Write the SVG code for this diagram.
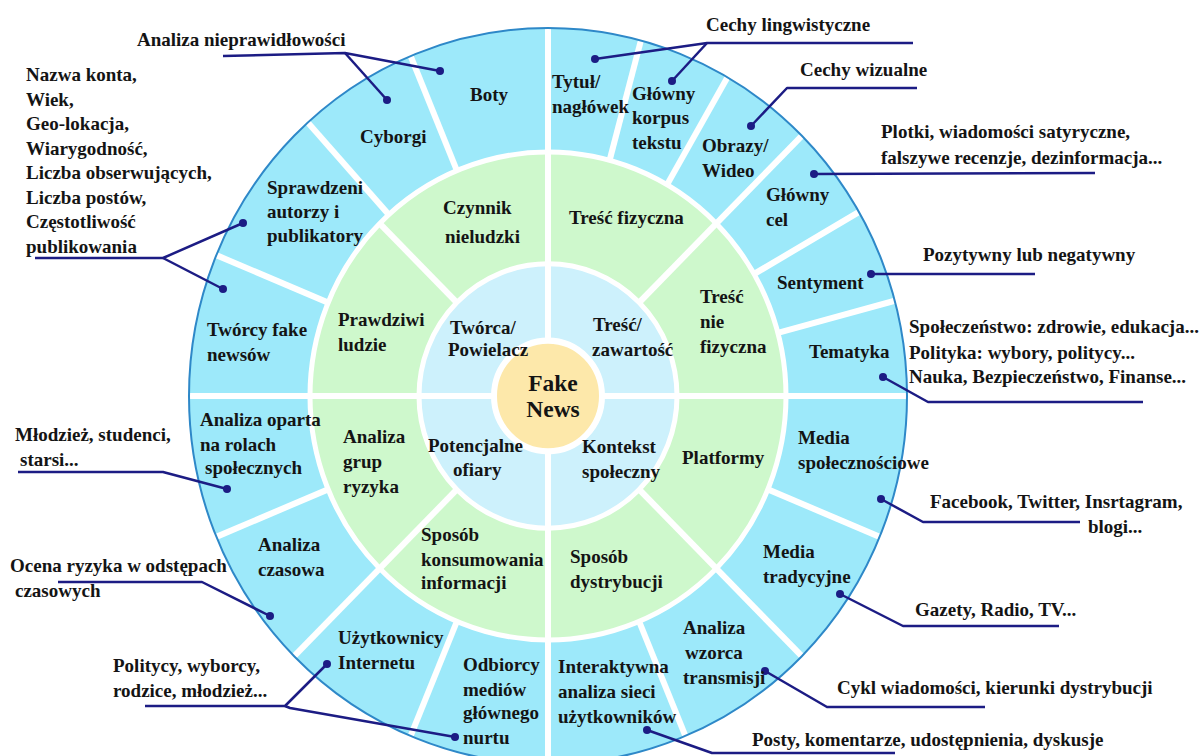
<svg xmlns="http://www.w3.org/2000/svg" width="1203" height="756" viewBox="0 0 1203 756">
<style>
text{font-family:"Liberation Serif","Times New Roman",serif;font-weight:bold;font-size:19px;fill:#141414}
.big{font-size:23.5px}
.sep{stroke:#fff;stroke-width:6;fill:none}
.con{stroke:#1c1c84;stroke-width:2.5;fill:none;stroke-linejoin:round}
.dot{fill:#1c1c84}
</style>
<rect width="1203" height="756" fill="#fff"/>
<g id="label-ocena-behind"><text x="10" y="572">Ocena ryzyka w odstępach</text></g>
<g id="wheel" transform="translate(548,396) scale(1,1.025)">
<circle r="359" fill="#9de9fa"/>
<circle r="238" fill="#cef8cc" stroke="#fff" stroke-width="5"/>
<circle r="129" fill="#cdf1fc" stroke="#fff" stroke-width="5"/>
<g class="sep">
<line x1="0" y1="-359" x2="0" y2="359"/>
<line x1="-359" y1="0" x2="359" y2="0"/>
<line x1="91.2" y1="-91.2" x2="253.9" y2="-253.9"/>
<line x1="91.2" y1="91.2" x2="253.9" y2="253.9"/>
<line x1="-91.2" y1="91.2" x2="-253.9" y2="253.9"/>
<line x1="-91.2" y1="-91.2" x2="-168.3" y2="-168.3"/>
<line x1="-159.2" y1="-176.9" x2="-240.2" y2="-266.8"/>
<line x1="61.6" y1="-229.9" x2="92.9" y2="-346.8"/>
<line x1="119" y1="-206.1" x2="179.5" y2="-310.9"/>
<line x1="206.1" y1="-119" x2="310.9" y2="-179.5"/>
<line x1="229.9" y1="-61.6" x2="346.8" y2="-92.9"/>
<line x1="219.9" y1="91.1" x2="331.7" y2="137.4"/>
<line x1="91.1" y1="219.9" x2="137.4" y2="331.7"/>
<line x1="-91.1" y1="219.9" x2="-137.4" y2="331.7"/>
<line x1="-219.9" y1="91.1" x2="-331.7" y2="137.4"/>
<line x1="-219.9" y1="-91.1" x2="-331.7" y2="-137.4"/>
<line x1="-91.1" y1="-219.9" x2="-137.4" y2="-331.7"/>
</g>
<circle r="54" fill="#fde8aa" stroke="#fff" stroke-width="6"/>
<circle r="359" fill="none" stroke="#2e88c8" stroke-width="2"/>
</g>
<g id="connectors">
<polyline class="con" points="223,56 345,53 440,71"/><line class="con" x1="345" y1="53" x2="387" y2="100"/>
<polyline class="con" points="913,43 707,43 595,59"/><line class="con" x1="707" y1="43" x2="672" y2="81"/>
<polyline class="con" points="917,88 787,88 751,126"/>
<polyline class="con" points="814,174 1095,173"/>
<polyline class="con" points="871,274 1035,274"/>
<polyline class="con" points="883,377 928,402 1143,402"/>
<polyline class="con" points="881,499 923,522 1080,522"/>
<polyline class="con" points="840,594 903,626 1059,626"/>
<polyline class="con" points="765,671 827,707 985,707"/>
<polyline class="con" points="647,730 712,753 895,753"/>
<polyline class="con" points="35,258 163,258 243,223"/><line class="con" x1="163" y1="258" x2="223" y2="289"/>
<polyline class="con" points="18,472 163,472 227,489"/>
<polyline class="con" points="58,582 202,582 270,616"/>
<polyline class="con" points="145,706 285,706 327,664"/><polyline class="con" points="285,706 290,708 455,737"/>
<g class="dot">
<circle cx="440" cy="71" r="4"/><circle cx="387" cy="100" r="4"/>
<circle cx="595" cy="59" r="4"/><circle cx="672" cy="81" r="4"/>
<circle cx="751" cy="126" r="4"/><circle cx="814" cy="174" r="4"/>
<circle cx="871" cy="274" r="4"/><circle cx="883" cy="377" r="4"/>
<circle cx="881" cy="499" r="4"/><circle cx="840" cy="594" r="4"/>
<circle cx="765" cy="671" r="4"/><circle cx="647" cy="730" r="4"/>
<circle cx="243" cy="223" r="4"/><circle cx="223" cy="289" r="4"/>
<circle cx="227" cy="489" r="4"/><circle cx="270" cy="616" r="4"/>
<circle cx="327" cy="664" r="4"/><circle cx="455" cy="737" r="4"/>
</g>
</g>
<g id="center"><text class="big" x="553" y="391" text-anchor="middle">Fake</text><text class="big" x="553" y="417" text-anchor="middle">News</text></g>
<g id="tworca"><text x="450" y="334">Twórca/</text><text x="448" y="356">Powielacz</text></g>
<g id="tresc"><text x="593" y="331">Treść/</text><text x="592" y="356">zawartość</text></g>
<g id="ofiary"><text x="428" y="452">Potencjalne</text><text x="453" y="476">ofiary</text></g>
<g id="kontekst"><text x="582" y="453">Kontekst</text><text x="582" y="478">społeczny</text></g>
<g id="czynnik"><text x="443" y="214">Czynnik</text><text x="445" y="243">nieludzki</text></g>
<g id="fizyczna"><text x="569" y="224">Treść fizyczna</text></g>
<g id="prawdziwi"><text x="338" y="326">Prawdziwi</text><text x="338" y="351">ludzie</text></g>
<g id="niefizyczna"><text x="700" y="303">Treść</text><text x="700" y="328">nie</text><text x="700" y="353">fizyczna</text></g>
<g id="grupy"><text x="343" y="443">Analiza</text><text x="343" y="468">grup</text><text x="343" y="493">ryzyka</text></g>
<g id="platformy"><text x="682" y="464">Platformy</text></g>
<g id="konsumowanie"><text x="421" y="541">Sposób</text><text x="421" y="566">konsumowania</text><text x="421" y="589">informacji</text></g>
<g id="dystrybucja"><text x="570" y="563">Sposób</text><text x="570" y="588">dystrybucji</text></g>
<g id="boty"><text x="489" y="101" text-anchor="middle">Boty</text></g>
<g id="cyborgi"><text x="360" y="143">Cyborgi</text></g>
<g id="sprawdzeni"><text x="267" y="194">Sprawdzeni</text><text x="267" y="218">autorzy i</text><text x="267" y="242">publikatory</text></g>
<g id="tworcy"><text x="207" y="336">Twórcy fake</text><text x="207" y="361">newsów</text></g>
<g id="role"><text x="200" y="426">Analiza oparta</text><text x="200" y="451">na rolach</text><text x="205" y="474">społecznych</text></g>
<g id="czasowa"><text x="258" y="551">Analiza</text><text x="258" y="576">czasowa</text></g>
<g id="uzytkownicy"><text x="338" y="644">Użytkownicy</text><text x="338" y="669">Internetu</text></g>
<g id="odbiorcy"><text x="463" y="671">Odbiorcy</text><text x="463" y="696">mediów</text><text x="463" y="719">głównego</text><text x="463" y="744">nurtu</text></g>
<g id="interaktywna"><text x="558" y="673">Interaktywna</text><text x="558" y="698">analiza sieci</text><text x="558" y="723">użytkowników</text></g>
<g id="wzorzec"><text x="683" y="634">Analiza</text><text x="685" y="659">wzorca</text><text x="683" y="684">transmisji</text></g>
<g id="tradycyjne"><text x="763" y="558">Media</text><text x="763" y="583">tradycyjne</text></g>
<g id="spolecznosciowe"><text x="798" y="444">Media</text><text x="798" y="469">społecznościowe</text></g>
<g id="tematyka"><text x="809" y="358">Tematyka</text></g>
<g id="sentyment"><text x="777" y="289">Sentyment</text></g>
<g id="cel"><text x="766" y="201">Główny</text><text x="766" y="226">cel</text></g>
<g id="obrazy"><text x="702" y="152">Obrazy/</text><text x="702" y="177">Wideo</text></g>
<g id="korpus"><text x="632" y="100">Główny</text><text x="632" y="124">korpus</text><text x="632" y="149">tekstu</text></g>
<g id="tytul"><text x="552" y="88">Tytuł/</text><text x="552" y="113">nagłówek</text></g>
<g id="out-nieprawidlowosci"><text x="137" y="46">Analiza nieprawidłowości</text></g>
<g id="out-lingwistyczne"><text x="706" y="31">Cechy lingwistyczne</text></g>
<g id="out-wizualne"><text x="800" y="76">Cechy wizualne</text></g>
<g id="out-plotki"><text x="881" y="138">Plotki, wiadomości satyryczne,</text><text x="881" y="164">falszywe recenzje, dezinformacja...</text></g>
<g id="out-sentyment"><text x="923" y="261">Pozytywny lub negatywny</text></g>
<g id="out-tematyka"><text x="909" y="333">Społeczeństwo: zdrowie, edukacja...</text><text x="909" y="359">Polityka: wybory, politycy...</text><text x="909" y="383">Nauka, Bezpieczeństwo, Finanse...</text></g>
<g id="out-social"><text x="930" y="508">Facebook, Twitter, Insrtagram,</text><text x="1088" y="533">blogi...</text></g>
<g id="out-tradycyjne"><text x="915" y="616">Gazety, Radio, TV...</text></g>
<g id="out-cykl"><text x="837" y="694">Cykl wiadomości, kierunki dystrybucji</text></g>
<g id="out-posty"><text x="752" y="746">Posty, komentarze, udostępnienia, dyskusje</text></g>
<g id="out-konto"><text x="26" y="81">Nazwa konta,</text><text x="26" y="105.5">Wiek,</text><text x="26" y="130">Geo-lokacja,</text><text x="26" y="154.5">Wiarygodność,</text><text x="26" y="179">Liczba obserwujących,</text><text x="26" y="203.5">Liczba postów,</text><text x="26" y="228">Częstotliwość</text><text x="26" y="252.5">publikowania</text></g>
<g id="out-mlodziez"><text x="15" y="441">Młodzież, studenci,</text><text x="20" y="466">starsi...</text></g>
<g id="out-ocena"><text x="15" y="597">czasowych</text></g>
<g id="out-politycy"><text x="113" y="672">Politycy, wyborcy,</text><text x="113" y="697">rodzice, młodzież...</text></g>
</svg>
